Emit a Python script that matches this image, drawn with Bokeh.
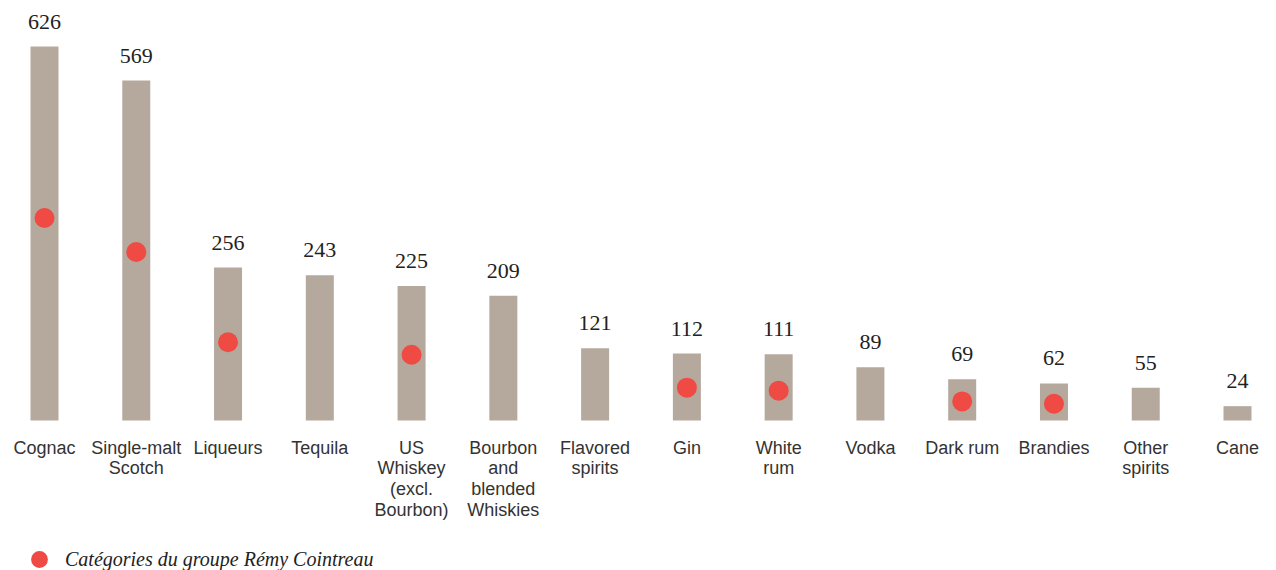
from bokeh.plotting import figure
from bokeh.models import ColumnDataSource, Range1d, Legend, LegendItem
from bokeh.core.properties import value
from bokeh.embed import file_html
from bokeh.resources import INLINE

categories = ["Cognac", "Single-malt\nScotch", "Liqueurs", "Tequila",
              "US\nWhiskey\n(excl.\nBourbon)", "Bourbon\nand\nblended\nWhiskies",
              "Flavored\nspirits", "Gin", "White\nrum", "Vodka", "Dark rum",
              "Brandies", "Other\nspirits", "Cane"]
values = [626, 569, 256, 243, 225, 209, 121, 112, 111, 89, 69, 62, 55, 24]
remy_idx = [0, 1, 2, 4, 7, 8, 10, 11]
remy_vals = [339, 282, 131, 110, 55, 50, 32, 28]

BAR = "#b5a89d"
RED = "#f04a44"
TXT = "#333333"

xs = list(range(len(categories)))
src = ColumnDataSource(dict(x=xs, v=values, lab=[str(v) for v in values], cat=categories,
                            zero=[0] * len(xs)))
dots = ColumnDataSource(dict(x=remy_idx, y=remy_vals))

p = figure(width=1276, height=570, output_backend="svg", toolbar_location=None,
           x_range=Range1d(-0.4795, 13.425), y_range=Range1d(-251.1, 703.1),
           min_border=0, outline_line_color=None)
p.axis.visible = False
p.grid.visible = False
p.background_fill_color = "white"
p.border_fill_color = "white"

p.vbar(x="x", top="v", bottom=0, width=0.305, source=src, fill_color=BAR, line_color=None)
r = p.scatter(x="x", y="y", source=dots, size=20, fill_color=RED, line_color=None)

p.text(x="x", y="v", text="lab", source=src, text_align="center", text_baseline="alphabetic",
       y_offset=-25, text_font=value("Liberation Serif"), text_font_size="22px", text_color="#222222")
p.text(x="x", y="zero", text="cat", source=src, text_align="center", text_baseline="top",
       y_offset=17, text_font=value("Liberation Sans"), text_font_size="18px", text_color=TXT,
       text_line_height=1.04)

legend = Legend(items=[LegendItem(label="Catégories du groupe Rémy Cointreau", renderers=[r])],
                location=(18, -10), padding=0, margin=0, glyph_width=42, glyph_height=42,
                label_standoff=5, label_text_font="Liberation Serif", label_text_font_style="italic",
                label_text_font_size="20px", label_text_color="#222222",
                border_line_color=None, background_fill_alpha=0)
p.add_layout(legend)

open("out.html", "w").write(file_html(p, INLINE))
